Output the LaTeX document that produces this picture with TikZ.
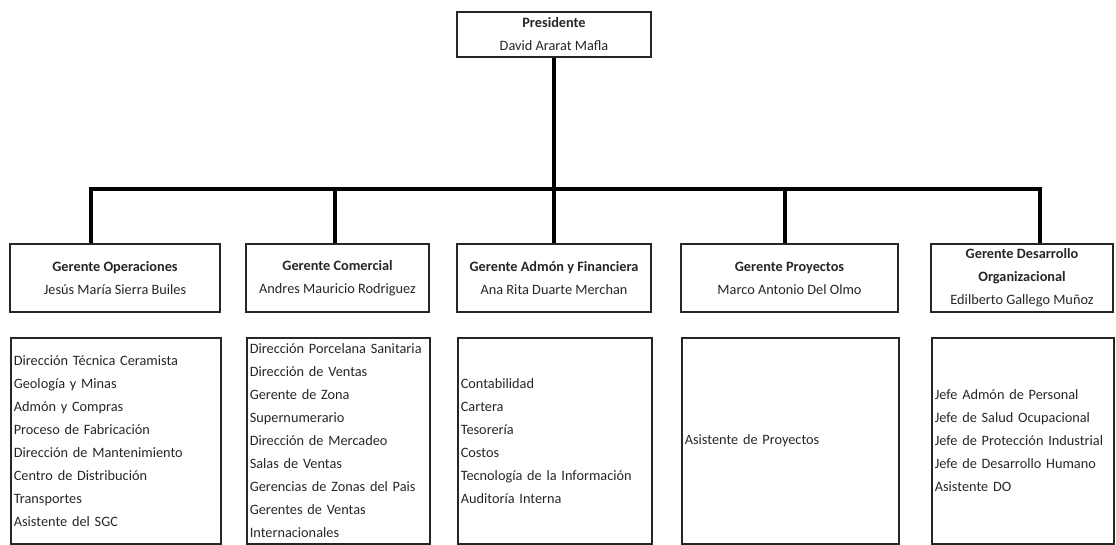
\documentclass[tikz,border=0pt]{standalone}
\usepackage{fontspec}
\setmainfont{Carlito}

\tikzset{
  cargo/.style={draw=black!85, line width=1.6pt, inner sep=0pt, align=center,
    font=\fontsize{14.3}{23}\selectfont, text=black!85},
  area/.style={draw=black!85, line width=1.6pt, inner xsep=3pt, inner ysep=0pt,
    align=left, anchor=north west, minimum height=206pt,
    font=\fontsize{14.3}{23}\selectfont, text=black!85},
  conector/.style={line width=4.5pt, black}
}

\begin{document}
\begin{tikzpicture}[x=1pt, y=-1pt]

\useasboundingbox (0,0) rectangle (1116,545);

% Presidente
\path 
(554,34.5) node[cargo, minimum width=194pt, minimum height=45pt] (pres) {\textbf{Presidente}\\David Ararat Mafla};


% Gerentes
\path 
(115,278) node[cargo, minimum width=210pt, minimum height=68pt] (g1) {\textbf{Gerente Operaciones}\\Jesús María Sierra Builes};

\path 
(337.5,278) node[cargo, minimum width=183pt, minimum height=68pt] (g2) {\textbf{Gerente Comercial}\\Andres Mauricio Rodriguez};

\path 
(554,278) node[cargo, minimum width=194pt, minimum height=68pt] (g3) {\textbf{Gerente Admón y Financiera}\\Ana Rita Duarte Merchan};

\path 
(789.5,278) node[cargo, minimum width=217pt, minimum height=68pt] (g4) {\textbf{Gerente Proyectos}\\Marco Antonio Del Olmo};

\path 
(1022,278) node[cargo, minimum width=182pt, minimum height=68pt] (g5) {\textbf{Gerente Desarrollo}\\\textbf{Organizacional}\\Edilberto Gallego Muñoz};


% Areas de cada gerencia
\path 
(10,337) node[area, text width=204pt] (a1) {Dirección Técnica Ceramista\\Geología y Minas\\Admón y Compras\\Proceso de Fabricación\\Dirección de Mantenimiento\\Centro de Distribución\\Transportes\\Asistente del SGC};

\path 
(246,337) node[area, text width=177pt] (a2) {Dirección Porcelana Sanitaria\\Dirección de Ventas\\Gerente de Zona\\Supernumerario\\Dirección de Mercadeo\\Salas de Ventas\\Gerencias de Zonas del Pais\\Gerentes de Ventas\\Internacionales};

\path 
(457,337) node[area, text width=188pt] (a3) {Contabilidad\\Cartera\\Tesorería\\Costos\\Tecnología de la Información\\Auditoría Interna};

\path 
(681,337) node[area, text width=211pt] (a4) {Asistente de Proyectos};

\path 
(931,337) node[area, text width=176pt] (a5) {Jefe Admón de Personal\\Jefe de Salud Ocupacional\\Jefe de Protección Industrial\\Jefe de Desarrollo Humano\\Asistente DO};


% Lineas de mando
\coordinate (b1) at (91,189);
\coordinate (b2) at (335,189);
\coordinate (b4) at (785,189);
\coordinate (b5) at (1040,189);

\draw[conector] (b1 |- g1.north) -- (b1) -- (b5) -- (b5 |- g5.north);
\draw[conector] (pres.south) -- (pres.south |- g3.north);
\draw[conector] (b2) -- (b2 |- g2.north);
\draw[conector] (b4) -- (b4 |- g4.north);

\end{tikzpicture}
\end{document}
